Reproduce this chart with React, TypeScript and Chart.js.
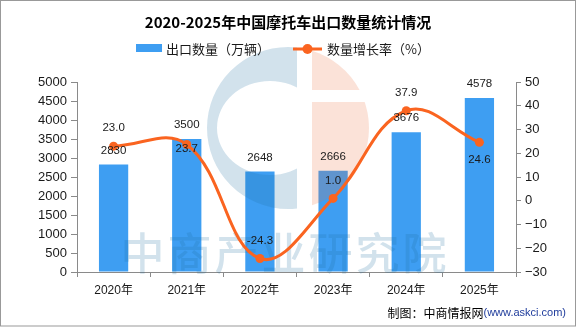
import React, { useEffect, useRef } from 'react';
import { Chart, registerables } from 'chart.js';

Chart.register(...registerables);

const chartTitle = '2020-2025年中国摩托车出口数量统计情况';
const categories = ['2020年', '2021年', '2022年', '2023年', '2024年', '2025年'];
const exportVolume = [2830, 3500, 2648, 2666, 3676, 4578];
const growthRate = [23.0, 23.7, -24.3, 1.0, 37.9, 24.6];
const barSeriesName = '出口数量（万辆）';
const lineSeriesName = '数量增长率（%）';
const leftTicks = { min: 0, max: 5000, step: 500 };
const rightTicks = { min: -30, max: 50, step: 10 };
const sourceLabel = '制图：中商情报网';
const sourceUrl = '(www.askci.com)';
const watermarkText = '中商产业研究院';
const rateLabelSide = ['above', 'near', 'above', 'above', 'above', 'below'];

const BAR_COLOR = '#3e9ef2';
const LINE_COLOR = '#fa6420';
const AXIS_COLOR = '#8a8a8a';
const TEXT_COLOR = '#1a1a1a';
const CJK = '"Noto Sans CJK SC", sans-serif';
const LATIN = '"Liberation Sans", "Noto Sans CJK SC", sans-serif';

function drawWatermark(chart: any) {
  const ctx: CanvasRenderingContext2D = chart.ctx;
  const cx = chart.width / 2;
  const cy = 128;
  const r = 81;
  const blue = 'rgba(30,110,160,0.2)';
  const orange = 'rgba(235,110,60,0.2)';
  ctx.save();
  ctx.save();
  ctx.beginPath();
  ctx.rect(0, 0, cx + 9, chart.height);
  ctx.clip();
  ctx.beginPath();
  ctx.arc(cx, cy, r, 0, Math.PI * 2);
  ctx.ellipse(cx - 18, cy, 53, 47, 0, 0, Math.PI * 2);
  ctx.fillStyle = blue;
  ctx.fill('evenodd');
  ctx.restore();
  ctx.save();
  ctx.beginPath();
  ctx.rect(cx + 24, 0, chart.width, cy - 38);
  ctx.rect(cx + 24, cy - 26, chart.width, chart.height);
  ctx.clip();
  ctx.beginPath();
  ctx.arc(cx, cy, r, 0, Math.PI * 2);
  ctx.fillStyle = orange;
  ctx.fill();
  ctx.restore();
  ctx.font = `500 44px ${CJK}`;
  (ctx as any).letterSpacing = '3px';
  ctx.fillStyle = blue;
  ctx.textAlign = 'center';
  ctx.textBaseline = 'middle';
  ctx.fillText(watermarkText, cx - 3, 253);
  ctx.restore();
}

function drawDecor(chart: any) {
  const ctx: CanvasRenderingContext2D = chart.ctx;
  const W = chart.width;
  ctx.save();
  ctx.strokeStyle = '#999';
  ctx.lineWidth = 1;
  ctx.strokeRect(0.5, 0.5, W - 1, chart.height - 1.5);

  ctx.fillStyle = '#000';
  ctx.font = `bold 15px ${CJK}`;
  ctx.textAlign = 'center';
  ctx.textBaseline = 'middle';
  ctx.fillText(chartTitle, W / 2, 22);

  ctx.font = `13px ${CJK}`;
  ctx.textAlign = 'left';
  const w1 = ctx.measureText(barSeriesName).width;
  const w2 = ctx.measureText(lineSeriesName).width;
  const total = 26 + 4 + w1 + 23 + 29 + 5 + w2;
  let x = W / 2 - 5 - total / 2;
  const ly = 49;
  ctx.fillStyle = BAR_COLOR;
  ctx.fillRect(x, ly - 5, 26, 8);
  x += 30;
  ctx.fillStyle = TEXT_COLOR;
  ctx.fillText(barSeriesName, x, ly);
  x += w1 + 23;
  ctx.strokeStyle = LINE_COLOR;
  ctx.lineWidth = 3;
  ctx.beginPath();
  ctx.moveTo(x, ly);
  ctx.lineTo(x + 29, ly);
  ctx.stroke();
  ctx.fillStyle = LINE_COLOR;
  ctx.beginPath();
  ctx.arc(x + 14.5, ly, 5, 0, Math.PI * 2);
  ctx.fill();
  x += 34;
  ctx.fillStyle = TEXT_COLOR;
  ctx.fillText(lineSeriesName, x, ly);

  ctx.font = `11.5px ${LATIN}`;
  ctx.textAlign = 'center';
  ctx.fillStyle = TEXT_COLOR;
  const barMeta = chart.getDatasetMeta(0);
  barMeta.data.forEach((el: any, i: number) => {
    ctx.fillText(String(exportVolume[i]), el.x, el.y - 14);
  });
  const lineMeta = chart.getDatasetMeta(1);
  lineMeta.data.forEach((el: any, i: number) => {
    const side = rateLabelSide[i];
    const dy = side === 'above' ? -18 : side === 'below' ? 18 : 4;
    ctx.fillText(growthRate[i].toFixed(1), el.x, el.y + dy);
  });

  ctx.textAlign = 'right';
  ctx.font = `11px ${LATIN}`;
  const uw = ctx.measureText(sourceUrl).width;
  ctx.fillStyle = '#1f3c9c';
  ctx.fillText(sourceUrl, W - 10, 313);
  ctx.font = `12px ${CJK}`;
  ctx.fillStyle = '#000';
  ctx.fillText(sourceLabel, W - 10 - uw, 313);
  ctx.restore();
}

const decorPlugin = {
  id: 'decor',
  afterDatasetDraw(chart: any, args: any) {
    if (args.index === 0) drawWatermark(chart);
  },
  afterDraw(chart: any) {
    drawDecor(chart);
  },
};

export default function App() {
  const ref = useRef<HTMLCanvasElement | null>(null);
  useEffect(() => {
    if (!ref.current) return;
    const tickFont = { family: LATIN, size: 13 };
    const chart = new Chart(ref.current, {
      type: 'bar',
      data: {
        labels: categories,
        datasets: [
          {
            type: 'bar',
            label: barSeriesName,
            data: exportVolume,
            backgroundColor: BAR_COLOR,
            barPercentage: 0.4,
            categoryPercentage: 1,
            yAxisID: 'y',
            order: 1,
          },
          {
            type: 'line',
            label: lineSeriesName,
            data: growthRate,
            borderColor: LINE_COLOR,
            backgroundColor: LINE_COLOR,
            borderWidth: 3,
            tension: 0.4,
            pointRadius: 4.5,
            pointBorderWidth: 0,
            pointBackgroundColor: LINE_COLOR,
            yAxisID: 'y1',
            order: 0,
          } as any,
        ],
      },
      options: {
        responsive: false,
        animation: false,
        devicePixelRatio: 1,
        layout: { padding: { top: 82, left: 0, right: 0, bottom: 0 } },
        plugins: {
          legend: { display: false },
          title: { display: false },
          tooltip: { enabled: false },
        },
        scales: {
          x: {
            offset: true,
            grid: { offset: true, drawOnChartArea: false, tickLength: 5, color: AXIS_COLOR },
            border: { color: AXIS_COLOR },
            ticks: { font: { family: LATIN, size: 12 }, color: TEXT_COLOR, padding: 6 },
            afterFit: (s: any) => { s.height = 55; },
          },
          y: {
            position: 'left',
            min: leftTicks.min,
            max: leftTicks.max,
            ticks: {
              stepSize: leftTicks.step,
              font: tickFont,
              color: TEXT_COLOR,
              padding: 4,
              callback: (v: any) => String(v),
            },
            grid: { drawOnChartArea: false, tickLength: 6, color: AXIS_COLOR },
            border: { color: AXIS_COLOR },
            afterFit: (s: any) => { s.width = 77; },
          },
          y1: {
            position: 'right',
            min: rightTicks.min,
            max: rightTicks.max,
            ticks: {
              stepSize: rightTicks.step,
              font: tickFont,
              color: TEXT_COLOR,
              padding: 4,
              callback: (v: any) => String(v).replace('-', '−'),
            },
            grid: { drawOnChartArea: false, tickLength: 5, color: AXIS_COLOR },
            border: { color: AXIS_COLOR },
            afterFit: (s: any) => { s.width = 60; },
          },
        },
      },
      plugins: [decorPlugin],
    });
    return () => chart.destroy();
  }, []);
  return (
    <div style={{ position: 'absolute', left: 0, top: 0, width: 576, height: 327, background: '#fff' }}>
      <canvas ref={ref} width={576} height={327} style={{ display: 'block' }} />
    </div>
  );
}
